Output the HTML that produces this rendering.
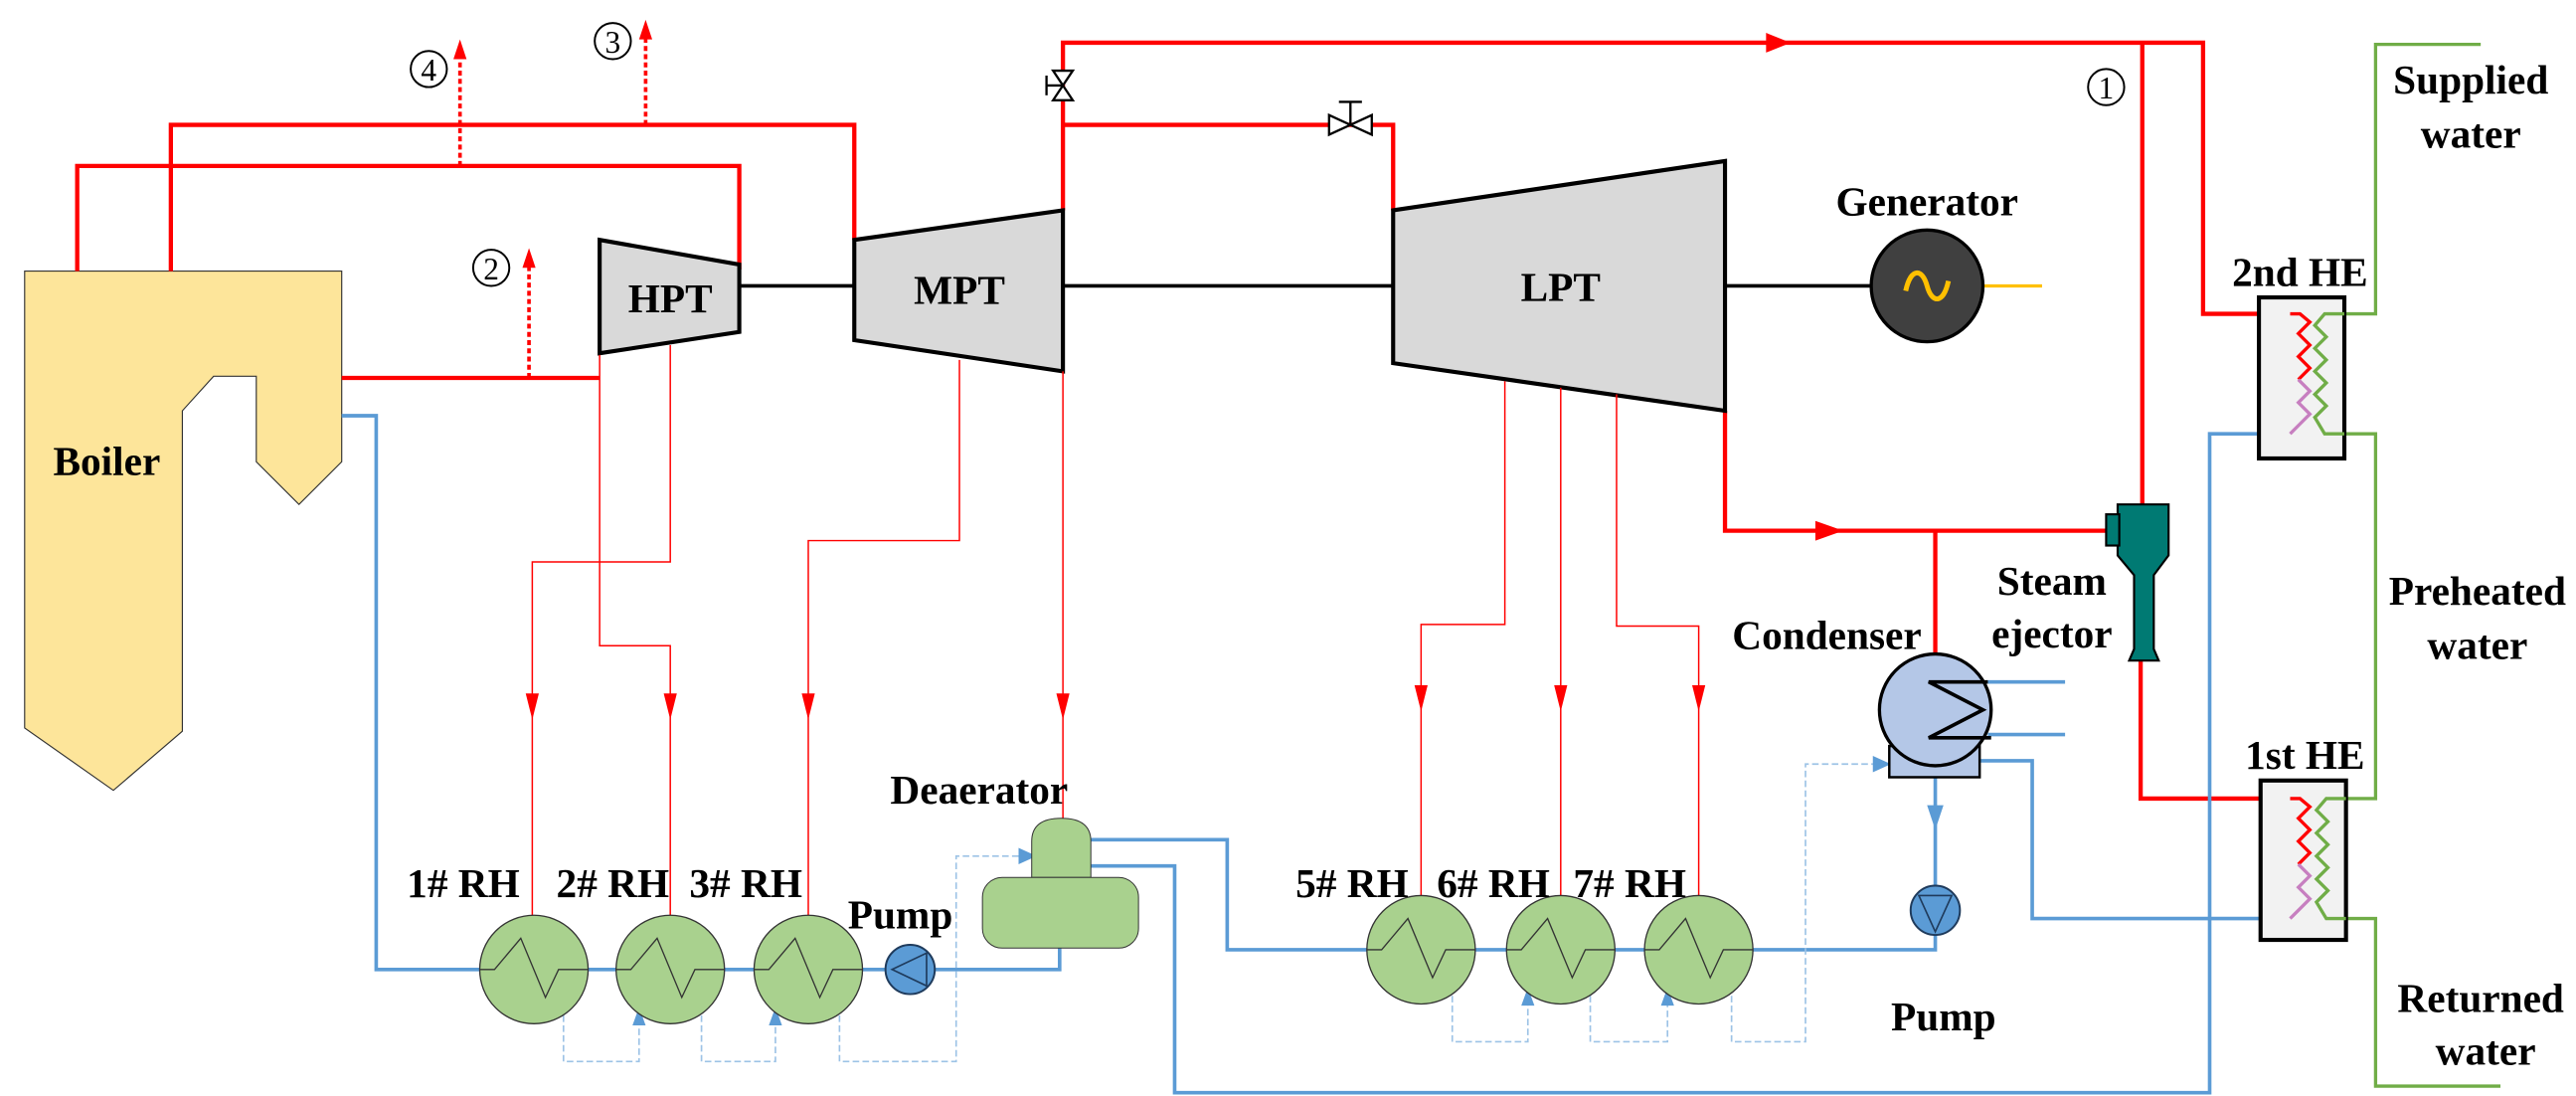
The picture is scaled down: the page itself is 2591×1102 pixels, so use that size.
<!DOCTYPE html>
<html><head><meta charset="utf-8"><style>html,body{margin:0;padding:0;background:#fff}svg{display:block}
text{font-family:"Liberation Serif","Times New Roman",serif;font-weight:bold}</style></head>
<body>
<svg width="2591" height="1102" viewBox="0 0 1568 667" preserveAspectRatio="none" xmlns="http://www.w3.org/2000/svg">
<g style="font-family:'Liberation Serif',serif;font-weight:bold" font-size="25" fill="#000" text-anchor="middle">
<!-- Boiler -->
<polygon points="15,165 208,165 208,281 182,307 156,281 156,229 130,229 111,250 111,445 69,481 15,443" fill="#fde59a" stroke="#333" stroke-width="0.7"/>
<text x="65" y="289">Boiler</text>

<g fill="none" stroke="#ff0000" stroke-width="2.6">
<polyline points="47,165 47,101 450,101 450,164"/>
<polyline points="104,165 104,76 520,76 520,146"/>
<polyline points="208,230 365,230"/>
<polyline points="647,128 647,26 1341,26 1341,191 1394,191"/>
<polyline points="647,76 848,76 848,128"/>
<polyline points="1304,26 1304,307"/>
<polyline points="1050,250 1050,323 1282,323"/>
<polyline points="1178,323 1178,400"/>
<polyline points="1303,402 1303,486 1394,486"/>
</g>
<path d="M1075,20 L1090,26 L1075,32z" fill="#ff0000"/>
<path d="M1105,317 L1122,323 L1105,329z" fill="#ff0000"/>
<g stroke="#ff0000" stroke-width="2.2" stroke-dasharray="3,2" fill="none">
<line x1="280" y1="101" x2="280" y2="34"/>
<line x1="393" y1="76" x2="393" y2="22"/>
<line x1="322" y1="230" x2="322" y2="161"/>
</g>
<path d="M276,36 L280,24 L284,36z M389,24 L393,12 L397,24z M318,163 L322,151 L326,163z" fill="#ff0000"/>
<g style="font-weight:normal">
<circle cx="261" cy="42" r="11" fill="none" stroke="#000" stroke-width="1.2"/><text x="261" y="49" font-size="19" style="font-weight:normal">4</text>
<circle cx="373" cy="25" r="11" fill="none" stroke="#000" stroke-width="1.2"/><text x="373" y="32" font-size="19" style="font-weight:normal">3</text>
<circle cx="299" cy="163" r="11" fill="none" stroke="#000" stroke-width="1.2"/><text x="299" y="170" font-size="19" style="font-weight:normal">2</text>
<circle cx="1282" cy="53" r="11" fill="none" stroke="#000" stroke-width="1.2"/><text x="1282" y="60" font-size="19" style="font-weight:normal">1</text>
</g>
<g stroke="#000" stroke-width="1.4" fill="#fff">
<path d="M641,43 L653,43 L641,61 L653,61 Z"/>
<line x1="647" y1="52" x2="637" y2="52"/><line x1="637" y1="46" x2="637" y2="58"/>
<path d="M809,70 L809,82 L835,70 L835,82 Z"/>
<line x1="822" y1="76" x2="822" y2="62"/><line x1="815" y1="62" x2="829" y2="62"/>
</g>

<g stroke="#000" stroke-width="2.2">
<line x1="450" y1="174" x2="520" y2="174"/>
<line x1="647" y1="174" x2="848" y2="174"/>
<line x1="1050" y1="174" x2="1140" y2="174"/>
</g>
<polygon points="365,146 450,161 450,202 365,215" fill="#d9d9d9" stroke="#000" stroke-width="2.5"/>
<text x="408" y="190">HPT</text>
<polygon points="520,146 647,128 647,226 520,207" fill="#d9d9d9" stroke="#000" stroke-width="2.5"/>
<text x="584" y="185">MPT</text>
<polygon points="848,128 1050,98 1050,250 848,221" fill="#d9d9d9" stroke="#000" stroke-width="2.5"/>
<text x="950" y="183">LPT</text>
<line x1="1207" y1="174" x2="1243" y2="174" stroke="#ffc000" stroke-width="2"/>
<circle cx="1173" cy="174" r="34" fill="#404040" stroke="#000" stroke-width="2"/>
<path d="M1160,177 C1163,163 1170,163 1173,174 C1176,185 1183,185 1186,171" fill="none" stroke="#ffc000" stroke-width="3"/>
<text x="1173" y="131">Generator</text>

<g fill="none" stroke="#ff0000" stroke-width="0.9">
<polyline points="365,216 365,393 408,393 408,557"/>
<polyline points="408,210 408,342 324,342 324,557"/>
<polyline points="584,219 584,329 492,329 492,557"/>
<polyline points="647,226 647,498"/>
<polyline points="916,232 916,380 865,380 865,545"/>
<polyline points="950,236 950,545"/>
<polyline points="984,240 984,381 1034,381 1034,545"/>
</g>
<g fill="#ff0000">
<path d="M320,422 L328,422 L324,438z M404,422 L412,422 L408,438z M488,422 L496,422 L492,438z M643,422 L651,422 L647,438z M861,417 L869,417 L865,433z M946,417 L954,417 L950,433z M1030,417 L1038,417 L1034,433z"/>
</g>

<g fill="none" stroke="#5b9bd5" stroke-width="2.2">
<polyline points="208,253 229,253 229,590 630,590 645,590 645,577"/>
<polyline points="664,511 747,511 747,578 1178,578 1178,569"/>
<polyline points="1178,539 1178,473"/>
<polyline points="664,527 715,527 715,665 1345,665 1345,264 1394,264"/>
<polyline points="1205,463 1237,463 1237,559 1394,559"/>
<line x1="1210" y1="415" x2="1257" y2="415"/>
<line x1="1210" y1="447" x2="1257" y2="447"/>
</g>
<path d="M1173,490 L1183,490 L1178,505z" fill="#5b9bd5"/>
<g fill="none" stroke="#9dc3e6" stroke-width="1" stroke-dasharray="4,2">
<polyline points="343,612 343,646 389,646 389,622"/>
<polyline points="427,612 427,646 472,646 472,622"/>
<polyline points="511,612 511,646 582,646 582,521 624,521"/>
<polyline points="884,600 884,634 930,634 930,610"/>
<polyline points="968,600 968,634 1015,634 1015,610"/>
<polyline points="1054,600 1054,634 1099,634 1099,465 1146,465"/>
</g>
<path d="M385,624 L393,624 L389,613z M468,624 L476,624 L472,613z M926,612 L934,612 L930,601z M1011,612 L1019,612 L1015,601z M620,516 L631,521 L620,526z M1140,460 L1151,465 L1140,470z" fill="#5b9bd5"/>

<g stroke="#333" stroke-width="0.8">
<g fill="#a9d18e">
<circle cx="325" cy="590" r="33"/><circle cx="408" cy="590" r="33"/><circle cx="492" cy="590" r="33"/>
<circle cx="865" cy="578" r="33"/><circle cx="950" cy="578" r="33"/><circle cx="1034" cy="578" r="33"/>
</g>
<g fill="none">
<polyline points="292,590 301,590 317,571 332,607 340,590 358,590"/>
<polyline points="375,590 384,590 400,571 415,607 423,590 441,590"/>
<polyline points="459,590 468,590 484,571 499,607 507,590 525,590"/>
<polyline points="832,578 841,578 857,559 872,595 880,578 898,578"/>
<polyline points="917,578 926,578 942,559 957,595 965,578 983,578"/>
<polyline points="1001,578 1010,578 1026,559 1041,595 1049,578 1067,578"/>
</g>
</g>
<text x="282" y="546">1# RH</text><text x="373" y="546">2# RH</text><text x="454" y="546">3# RH</text>
<text x="823" y="546">5# RH</text><text x="909" y="546">6# RH</text><text x="992" y="546">7# RH</text>
<circle cx="554" cy="590" r="15" fill="#5b9bd5" stroke="#1f3b5c" stroke-width="1.2"/>
<path d="M543,590 L564,580 L564,600 Z" fill="none" stroke="#1f3b5c" stroke-width="1"/>
<text x="548" y="565">Pump</text>
<circle cx="1178" cy="554" r="15" fill="#5b9bd5" stroke="#1f3b5c" stroke-width="1.2"/>
<path d="M1178,567 L1168,545 L1188,545 Z" fill="none" stroke="#1f3b5c" stroke-width="1"/>
<text x="1183" y="627">Pump</text>
<path d="M628,534 L628,512 Q628,498 646,498 Q664,498 664,512 L664,534 Z" fill="#a9d18e" stroke="#333" stroke-width="0.6"/>
<rect x="598" y="534" width="95" height="43" rx="12" fill="#a9d18e" stroke="#333" stroke-width="0.6"/>
<text x="596" y="489">Deaerator</text>
<rect x="1150" y="454" width="55" height="19" fill="#b4c7e7" stroke="#000" stroke-width="1.5"/>
<circle cx="1178" cy="432" r="34" fill="#b4c7e7" stroke="#000" stroke-width="2"/>
<polyline points="1210,415 1174,415 1207,432 1174,449 1212,449" fill="none" stroke="#000" stroke-width="2.2"/>
<text x="1112" y="395">Condenser</text>
<path d="M1289,307 L1320,307 L1320,338 L1311,350 L1311,395 L1314,402 L1296,402 L1299,395 L1299,350 L1289,338 Z" fill="#007a73" stroke="#000" stroke-width="1.3"/>
<rect x="1282" y="313" width="8" height="19" fill="#007a73" stroke="#000" stroke-width="1.3"/>
<text x="1249" y="362">Steam</text>
<text x="1249" y="394">ejector</text>

<g>
<polyline points="1427,191 1446,191 1446,27 1510,27" fill="none" stroke="#70ad47" stroke-width="2"/>
<polyline points="1427,264 1446,264 1446,486 1428,486" fill="none" stroke="#70ad47" stroke-width="2"/>
<polyline points="1428,559 1446,559 1446,661 1522,661" fill="none" stroke="#70ad47" stroke-width="2"/>
<rect x="1375" y="181" width="52" height="98" fill="#f2f2f2" stroke="#000" stroke-width="2.5"/>
<rect x="1376" y="475" width="52" height="97" fill="#f2f2f2" stroke="#000" stroke-width="2.5"/>
<polyline points="1394,191 1400,191 1406,196 1399,203 1406,210 1399,217 1406,224 1399,231" fill="none" stroke="#ff0000" stroke-width="2"/>
<polyline points="1399,231 1406,238 1399,245 1406,252 1400,258 1394,264" fill="none" stroke="#c77fc0" stroke-width="2"/>
<polyline points="1427,191 1415,191 1409,198 1416,205 1409,212 1416,219 1409,226 1416,233 1409,240 1416,247 1409,254 1415,264 1427,264" fill="none" stroke="#70ad47" stroke-width="2"/>
<polyline points="1394,486 1400,486 1406,491 1399,498 1406,505 1399,512 1406,519 1399,526" fill="none" stroke="#ff0000" stroke-width="2"/>
<polyline points="1399,526 1406,533 1399,540 1406,547 1400,553 1394,559" fill="none" stroke="#c77fc0" stroke-width="2"/>
<polyline points="1428,486 1416,486 1410,493 1417,500 1410,507 1417,514 1410,521 1417,528 1410,535 1417,542 1410,549 1416,559 1428,559" fill="none" stroke="#70ad47" stroke-width="2"/>
</g>
<text x="1400" y="174">2nd HE</text>
<text x="1403" y="468">1st HE</text>
<text x="1504" y="57">Supplied</text><text x="1504" y="90">water</text>
<text x="1508" y="368">Preheated</text><text x="1508" y="401">water</text>
<text x="1510" y="616">Returned</text><text x="1513" y="648">water</text>
</g>
</svg>
</body></html>
